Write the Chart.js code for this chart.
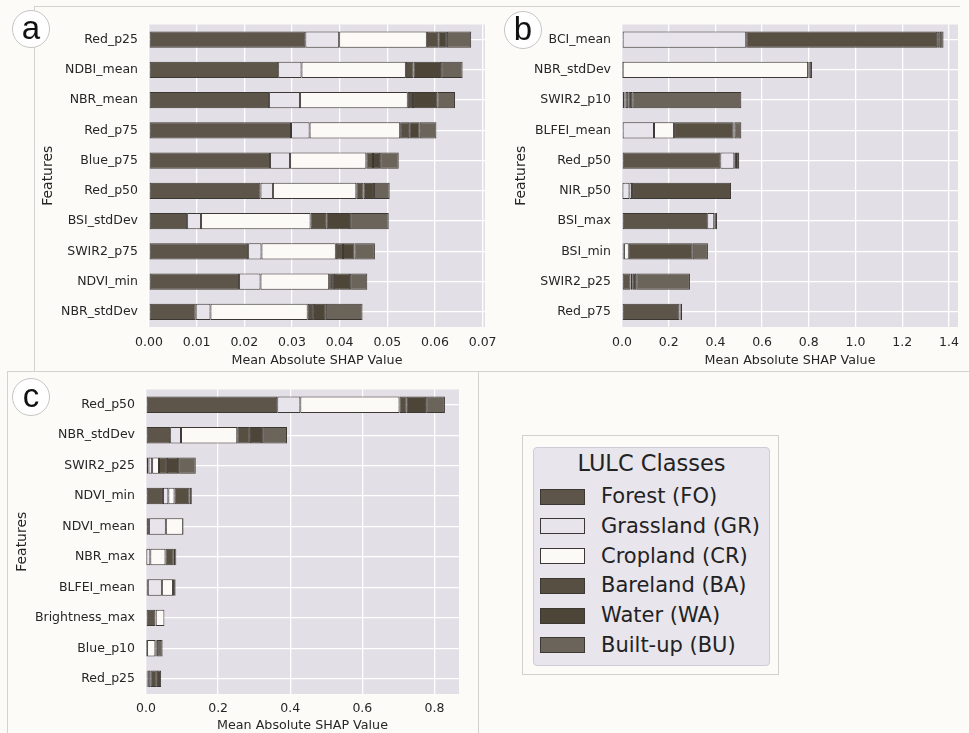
<!DOCTYPE html>
<html>
<head>
<meta charset="utf-8">
<script src="https://cdn.jsdelivr.net/npm/chart.js@4.4.0/dist/chart.umd.min.js"></script>
<style>
  html, body { margin: 0; padding: 0; background: #fcfbf8; }
  body { width: 969px; height: 733px; position: relative; overflow: hidden; font-family: "DejaVu Sans", sans-serif; color: #2b2b2b; }
  .abs { position: absolute; }
  .line { position: absolute; background: #d3d2cf; }
  .tag { position: absolute; width: 36px; height: 36px; border: 1px solid #c4c4c4; border-radius: 50%; background: #fff;
         font-family: "Liberation Sans", sans-serif; font-size: 33px; line-height: 34px; text-align: center; color: #111; }
</style>
</head>
<body>

<!-- frames -->
<div class="line" style="left:34px; top:6px; width:926px; height:1px;"></div>
<div class="line" style="left:34px; top:6px; width:1px; height:365px;"></div>
<div class="line" style="left:7px; top:371px; width:962px; height:1px;"></div>
<div class="line" style="left:7px; top:371px; width:1px; height:362px;"></div>
<div class="line" style="left:478px; top:371px; width:1px; height:362px;"></div>

<canvas id="chartA" class="abs" width="472" height="365" style="left:34px; top:6px;"></canvas>
<canvas id="chartB" class="abs" width="479" height="365" style="left:490px; top:6px;"></canvas>
<canvas id="chartC" class="abs" width="471" height="362" style="left:7px; top:371px;"></canvas>

<div class="tag" style="left:12px; top:10px;">a</div>
<div class="tag" style="left:504px; top:11px;">b</div>
<div class="tag" style="left:12px; top:378px;">c</div>

<div id="legend"></div>

<script>
// Classes and colours
var classes = ["Forest (FO)", "Grassland (GR)", "Cropland (CR)", "Bareland (BA)", "Water (WA)", "Built-up (BU)"];
var classColors = ["#5d554a", "#e7e4ec", "#fcfaf6", "#574f42", "#4d4537", "#6b645a"];

// Panel a
var featuresA = ["Red_p25", "NDBI_mean", "NBR_mean", "Red_p75", "Blue_p75", "Red_p50", "BSI_stdDev", "SWIR2_p75", "NDVI_min", "NBR_stdDev"];
var foA = [0.0328, 0.0271, 0.0252, 0.0298, 0.0254, 0.0234, 0.0080, 0.0208, 0.0189, 0.0098];
var grA = [0.0071, 0.0049, 0.0065, 0.0039, 0.0042, 0.0026, 0.0029, 0.0028, 0.0045, 0.0031];
var crA = [0.0184, 0.0219, 0.0226, 0.0190, 0.0160, 0.0175, 0.0230, 0.0156, 0.0144, 0.0204];
var baA = [0.0024, 0.0016, 0.0011, 0.0019, 0.0014, 0.0015, 0.0033, 0.0015, 0.0010, 0.0013];
var waA = [0.0018, 0.0058, 0.0051, 0.0022, 0.0015, 0.0022, 0.0050, 0.0024, 0.0034, 0.0025];
var buA = [0.0051, 0.0045, 0.0037, 0.0035, 0.0039, 0.0033, 0.0081, 0.0043, 0.0036, 0.0077];

// Panel b
var featuresB = ["BCI_mean", "NBR_stdDev", "SWIR2_p10", "BLFEI_mean", "Red_p50", "NIR_p50", "BSI_max", "BSI_min", "SWIR2_p25", "Red_p75"];
var foB = [0.000, 0.001, 0.003, 0.000, 0.421, 0.002, 0.365, 0.006, 0.036, 0.246];
var grB = [0.532, 0.002, 0.008, 0.137, 0.060, 0.030, 0.030, 0.003, 0.000, 0.001];
var crB = [0.000, 0.794, 0.004, 0.086, 0.007, 0.011, 0.003, 0.020, 0.002, 0.003];
var baB = [0.818, 0.003, 0.012, 0.255, 0.005, 0.424, 0.004, 0.274, 0.008, 0.000];
var waB = [0.011, 0.004, 0.017, 0.004, 0.009, 0.000, 0.005, 0.000, 0.015, 0.007];
var buB = [0.016, 0.010, 0.467, 0.029, 0.000, 0.000, 0.000, 0.065, 0.230, 0.000];

// Panel c
var featuresC = ["Red_p50", "NBR_stdDev", "SWIR2_p25", "NDVI_min", "NDVI_mean", "NBR_max", "BLFEI_mean", "Brightness_max", "Blue_p10", "Red_p25"];
var foC = [0.364, 0.067, 0.007, 0.047, 0.008, 0.001, 0.005, 0.026, 0.001, 0.004];
var grC = [0.064, 0.030, 0.010, 0.015, 0.047, 0.011, 0.039, 0.001, 0.002, 0.002];
var crC = [0.275, 0.156, 0.019, 0.017, 0.048, 0.042, 0.031, 0.024, 0.023, 0.006];
var baC = [0.020, 0.035, 0.022, 0.042, 0.001, 0.023, 0.003, 0.000, 0.002, 0.018];
var waC = [0.054, 0.034, 0.031, 0.006, 0.000, 0.004, 0.004, 0.000, 0.002, 0.012];
var buC = [0.052, 0.069, 0.049, 0.000, 0.001, 0.003, 0.000, 0.000, 0.016, 0.000];

var PLOT_BG = "#e3dfe6";
var TEXT = "#262626";

Chart.defaults.font.family = "'DejaVu Sans', sans-serif";
Chart.defaults.color = TEXT;

// Fill the plot area before anything else is drawn
var plotBg = {
  id: "plotBg",
  beforeDraw: function (chart) {
    var a = chart.chartArea;
    var ctx = chart.ctx;
    ctx.save();
    ctx.fillStyle = PLOT_BG;
    ctx.fillRect(a.left, a.top, a.right - a.left, a.bottom - a.top);
    ctx.restore();
  }
};

function makeDatasets(series) {
  return series.map(function (values, i) {
    return {
      label: classes[i],
      data: values,
      backgroundColor: classColors[i],
      borderColor: "#3b3733",
      borderWidth: 1,
      borderSkipped: false,
      barPercentage: 0.54,
      categoryPercentage: 1
    };
  });
}

function makeChart(id, labels, series, cfg) {
  var ctx = document.getElementById(id).getContext("2d");
  return new Chart(ctx, {
    type: "bar",
    data: { labels: labels, datasets: makeDatasets(series) },
    plugins: [plotBg],
    options: {
      indexAxis: "y",
      responsive: false,
      animation: false,
      layout: { padding: { left: 0, right: cfg.padRight, top: cfg.padTop, bottom: 0 } },
      plugins: { legend: { display: false }, tooltip: { enabled: false } },
      scales: {
        x: {
          stacked: true,
          min: 0,
          max: cfg.max,
          border: { display: false },
          grid: { color: "#ffffff", lineWidth: 1.3, drawTicks: false },
          ticks: {
            stepSize: cfg.step,
            includeBounds: false,
            padding: cfg.tickPad,
            font: { size: 12.5 },
            color: TEXT,
            callback: function (v) { return Number(v).toFixed(cfg.decimals); }
          },
          title: { display: true, text: "Mean Absolute SHAP Value", font: { size: 12.7 }, color: TEXT, padding: { top: 0, bottom: cfg.titlePad } },
          afterFit: function (scale) {
            scale.height = cfg.xHeight;
            // keep the plot width fixed; edge labels may run past it like in the source
            scale.paddingLeft = 0;
            scale.paddingRight = 0;
          }
        },
        y: {
          stacked: true,
          border: { display: false },
          grid: { color: "#ffffff", lineWidth: 1.3, drawTicks: false, offset: false },
          ticks: { padding: 11, font: { size: 12.5 }, color: TEXT },
          title: { display: true, text: "Features", font: { size: 14 }, color: TEXT, padding: { top: cfg.featPad, bottom: 0 } },
          afterFit: function (scale) { scale.width = cfg.yWidth; }
        }
      }
    }
  });
}

makeChart("chartA", featuresA, [foA, grA, crA, baA, waA, buA],
  { max: 0.0705, step: 0.01, decimals: 2, padRight: 21, padTop: 4, xHeight: 44, yWidth: 115, tickPad: 8, titlePad: 3, featPad: 6 });
makeChart("chartB", featuresB, [foB, grB, crB, baB, waB, buB],
  { max: 1.439, step: 0.2, decimals: 1, padRight: 11, padTop: 4, xHeight: 44, yWidth: 132, tickPad: 8, titlePad: 3, featPad: 23 });
makeChart("chartC", featuresC, [foC, grC, crC, baC, waC, buC],
  { max: 0.868, step: 0.2, decimals: 1, padRight: 19, padTop: 5, xHeight: 39, yWidth: 139, tickPad: 7, titlePad: 0, featPad: 7 });

// Legend (HTML, built from the class arrays)
function buildLegend() {
  var root = document.getElementById("legend");
  var html = '<div class="abs" style="left:522px; top:435px; width:255px; height:238px; border:1px solid #d2d1ce; background:#fcfbf8;"></div>';
  html += '<div class="abs" style="left:533px; top:447px; width:235px; height:217px; border:1px solid #cfcbd7; border-radius:4px; background:#e8e5ec;"></div>';
  html += '<div class="abs" style="left:533px; top:449px; width:237px; text-align:center; font-size:22.5px; line-height:28px; color:#222;">LULC Classes</div>';
  for (var i = 0; i < classes.length; i++) {
    var cy = 496.7 + i * 29.7;
    html += '<div class="abs" style="left:540px; top:' + (cy - 8) + 'px; width:43px; height:14px; border:1px solid #3b3733; background:' + classColors[i] + ';"></div>';
    html += '<div class="abs" style="left:601px; top:' + (cy - 12.5) + 'px; font-size:21px; line-height:25px; color:#222; white-space:nowrap;">' + classes[i] + '</div>';
  }
  root.innerHTML = html;
}
buildLegend();
</script>
</body>
</html>
